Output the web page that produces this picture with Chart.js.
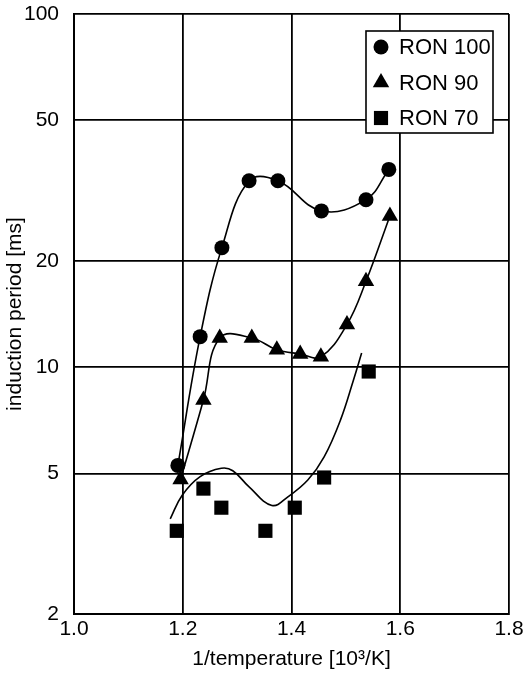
<!DOCTYPE html>
<html>
<head>
<meta charset="utf-8">
<script src="https://cdn.jsdelivr.net/npm/chart.js@4/dist/chart.umd.min.js"></script>
<style>
  html, body { margin: 0; padding: 0; background: #fff; }
  canvas { display: block; }
</style>
</head>
<body>
<canvas id="induction" width="531" height="675"></canvas>
<script>
// measured induction periods vs. inverse temperature
const ron100X = [1.191, 1.232, 1.272, 1.322, 1.375, 1.455, 1.537, 1.579];
const ron100Y = [5.27, 12.2, 21.8, 33.7, 33.7, 27.7, 29.8, 36.3];

const ron90X = [1.196, 1.238, 1.268, 1.327, 1.373, 1.416, 1.454, 1.502, 1.537, 1.581];
const ron90Y = [4.81, 8.07, 12.1, 12.1, 11.2, 10.9, 10.7, 13.2, 17.5, 26.8];

const ron70X = [1.189, 1.238, 1.271, 1.352, 1.406, 1.460, 1.542];
const ron70Y = [3.44, 4.53, 4.00, 3.44, 4.00, 4.87, 9.72];

// trend curve drawn for RON 70
const ron70FitX = [1.177, 1.199, 1.232, 1.271, 1.292, 1.322, 1.364, 1.394, 1.430, 1.460, 1.490, 1.514, 1.529];
const ron70FitY = [3.72, 4.34, 4.90, 5.17, 5.09, 4.58, 4.06, 4.30, 4.79, 5.57, 7.08, 9.20, 10.96];

const xTicks = [1.0, 1.2, 1.4, 1.6, 1.8];
const yTicks = [2, 5, 10, 20, 50, 100];

const toPoints = (xs, ys) => xs.map((x, i) => ({ x: x, y: ys[i] }));
const FONT = 'Liberation Sans, Arial, sans-serif';

const series = [
  { label: 'RON 100', data: toPoints(ron100X, ron100Y), pointStyle: 'circle', pointRadius: 7.5, showLine: true },
  { label: 'RON 90', data: toPoints(ron90X, ron90Y), pointStyle: 'triangle', pointRadius: 9.5, showLine: true },
  { label: 'RON 70', data: toPoints(ron70X, ron70Y), pointStyle: 'rect', pointRadius: 10, showLine: false },
  { label: '', data: toPoints(ron70FitX, ron70FitY), pointRadius: 0, showLine: true, fit: true }
];

const datasets = series.map(s => Object.assign({
  borderColor: '#000',
  backgroundColor: '#000',
  pointBackgroundColor: '#000',
  pointBorderWidth: 0,
  pointHoverRadius: 0,
  borderWidth: 1.6,
  tension: 0.4
}, s));

// boxed legend in the upper right corner of the plot
const boxLegend = {
  id: 'boxLegend',
  afterDraw(chart) {
    const ctx = chart.ctx;
    const left = 366, top = 31, w = 127, h = 102;
    ctx.save();
    ctx.fillStyle = '#fff';
    ctx.fillRect(left, top, w, h);
    ctx.lineWidth = 1.6;
    ctx.strokeStyle = '#000';
    ctx.strokeRect(left, top, w, h);
    ctx.font = '22px ' + FONT;
    ctx.textBaseline = 'middle';
    const rows = chart.data.datasets.filter(d => !d.fit);
    rows.forEach((d, i) => {
      const y = top + 16 + i * 35.5;
      ctx.fillStyle = '#000';
      Chart.helpers.drawPoint(ctx, { pointStyle: d.pointStyle, radius: d.pointRadius, rotation: 0, borderWidth: 0 }, left + 15, y);
      ctx.fillText(d.label, left + 33, y + 1);
    });
    ctx.restore();
  }
};

new Chart(document.getElementById('induction'), {
  type: 'line',
  data: { datasets: datasets },
  options: {
    responsive: false,
    animation: false,
    layout: { autoPadding: false, padding: { top: 14, right: 22, left: 0, bottom: 0 } },
    plugins: {
      legend: { display: false },
      tooltip: { enabled: false }
    },
    scales: {
      x: {
        type: 'linear',
        min: 1.0,
        max: 1.8,
        afterBuildTicks: s => { s.ticks = xTicks.map(v => ({ value: v })); },
        afterFit: s => { s.height = 61; },
        grid: { color: '#000', lineWidth: 1.8, drawTicks: false },
        border: { color: '#000', width: 2 },
        ticks: {
          color: '#000',
          padding: 3,
          font: { family: FONT, size: 21 },
          callback: v => Number(v).toFixed(1)
        },
        title: {
          display: true,
          text: '1/temperature [10³/K]',
          color: '#000',
          font: { family: FONT, size: 21 },
          padding: { top: 2, bottom: 3 }
        }
      },
      y: {
        type: 'logarithmic',
        min: 2,
        max: 100,
        afterBuildTicks: s => { s.ticks = yTicks.map(v => ({ value: v })); },
        afterFit: s => {
          s.width = 74;
          // the label gap should not push the plot down from the top edge
          s.paddingTop = 0;
          s.paddingBottom = 0;
        },
        grid: { color: '#000', lineWidth: 1.8, drawTicks: false },
        border: { color: '#000', width: 2 },
        ticks: {
          color: '#000',
          padding: 15,
          font: { family: FONT, size: 21 },
          callback: v => String(v)
        },
        title: {
          display: true,
          text: 'induction period [ms]',
          color: '#000',
          font: { family: FONT, size: 21 },
          padding: { top: 3, bottom: 4 }
        }
      }
    }
  },
  plugins: [boxLegend]
});
</script>
</body>
</html>
